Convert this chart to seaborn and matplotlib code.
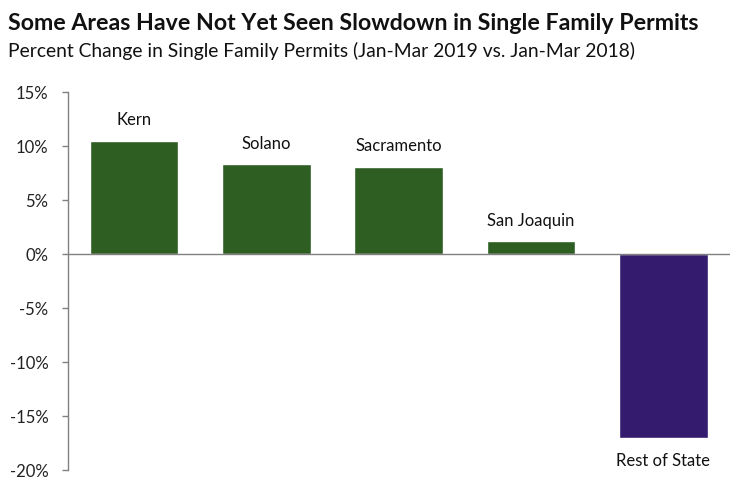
import matplotlib
matplotlib.use("Agg")
import matplotlib.pyplot as plt
import seaborn as sns
import pandas as pd
from matplotlib.ticker import FuncFormatter

# Data
regions = ["Kern", "Solano", "Sacramento", "San Joaquin", "Rest of State"]
pct_change = [10.5, 8.3, 8.1, 1.2, -17.0]
bar_colors = ["#2e5e22", "#2e5e22", "#2e5e22", "#2e5e22", "#341b6e"]
y_ticks = [-20, -15, -10, -5, 0, 5, 10, 15]

df = pd.DataFrame({"region": regions, "pct": pct_change})

sns.set_theme(style="white")
plt.rcParams["font.family"] = ["Lato", "DejaVu Sans"]

fig = plt.figure(figsize=(7.5, 4.95), dpi=100)
ax = fig.add_axes([0.0907, 0.0505, 0.882, 0.7636])

sns.barplot(data=df, x="region", y="pct", hue="region", palette=bar_colors,
            legend=False, width=0.67, saturation=1, ax=ax)

ax.set_ylim(-20, 15)
ax.set_xlim(-0.5, len(regions) - 0.5)
ax.set_yticks(y_ticks)
ax.yaxis.set_major_formatter(FuncFormatter(lambda v, p: f"{v:.0f}%"))
ax.tick_params(axis="y", left=True, length=4, width=1, color="#808080",
               labelsize=12, labelcolor="#222222", pad=10)
ax.tick_params(axis="x", bottom=False, labelbottom=False)
ax.set_xlabel("")
ax.set_ylabel("")

for side in ["top", "right", "bottom"]:
    ax.spines[side].set_visible(False)
ax.spines["left"].set_color("#808080")
ax.spines["left"].set_linewidth(1)
ax.axhline(0, color="#808080", lw=1, zorder=3)

# labels above / below the bars
for patch, name, val in zip(ax.patches, regions, pct_change):
    cx = patch.get_x() + patch.get_width() / 2
    if val >= 0:
        ax.annotate(name, (cx, val), xytext=(0, 9), textcoords="offset points",
                    ha="center", va="bottom", fontsize=12, color="#111111")
    else:
        ax.annotate(name, (cx, val), xytext=(0, -11), textcoords="offset points",
                    ha="center", va="top", fontsize=12, color="#111111")

fig.text(0.011, 0.952, "Some Areas Have Not Yet Seen Slowdown in Single Family Permits",
         fontsize=16.7, fontweight="bold", color="#111111", ha="left", va="center")
fig.text(0.011, 0.897, "Percent Change in Single Family Permits (Jan-Mar 2019 vs. Jan-Mar 2018)",
         fontsize=13.9, color="#111111", ha="left", va="center")

fig.savefig("out.png", dpi=100)
